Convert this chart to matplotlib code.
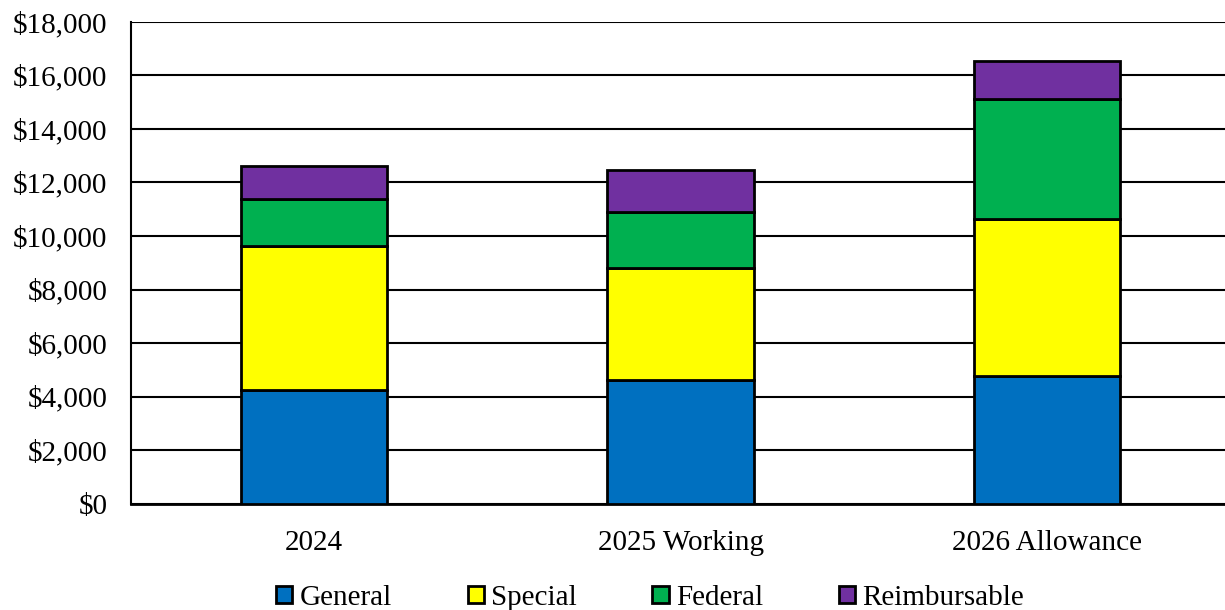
import matplotlib.pyplot as plt
import numpy as np

plt.rcParams['font.family'] = ['Liberation Serif', 'DejaVu Serif']

categories = ['2024', '2025 Working', '2026 Allowance']
general = [4250, 4600, 4780]
special = [5370, 4210, 5850]
federal = [1750, 2100, 4480]
reimbursable = [1250, 1560, 1430]

series = [('General', general, '#0070C0'),
          ('Special', special, '#FFFF00'),
          ('Federal', federal, '#00B050'),
          ('Reimbursable', reimbursable, '#7030A0')]

fig = plt.figure(figsize=(12.25, 6.1), dpi=100)
ax = fig.add_axes([131 / 1225, 1 - 503.5 / 610, (1230 - 131) / 1225, (503.5 - 22) / 610])

x = np.arange(len(categories))
bottom = np.zeros(len(categories))
for name, vals, color in series:
    ax.bar(x, vals, 0.4, bottom=bottom, color=color, edgecolor='black',
           linewidth=2, label=name, zorder=3)
    bottom += np.array(vals)

ax.set_xlim(-0.5, 2.5)
ax.set_ylim(0, 18000)
ax.set_yticks(np.arange(0, 18001, 2000))
ax.set_yticklabels(['${:,}'.format(v) for v in range(0, 18001, 2000)])
ax.set_xticks(x)
ax.set_xticklabels(categories)
ax.tick_params(axis='both', length=0, labelsize=21)
ax.tick_params(axis='y', pad=17)
ax.tick_params(axis='x', pad=19)
ax.yaxis.grid(True, color='black', linewidth=1.5, zorder=0)
for s in ['top', 'right']:
    ax.spines[s].set_visible(False)
ax.spines['left'].set_linewidth(1.5)
ax.spines['bottom'].set_linewidth(2)

ax.legend(loc='center', bbox_to_anchor=(650 / 1225, 1 - 598 / 610),
          bbox_transform=fig.transFigure, ncol=4, frameon=False, fontsize=21,
          handlelength=0.55, handleheight=0.55, handletextpad=0.25,
          columnspacing=2.6, borderpad=0)

fig.savefig('out.png', dpi=100)
